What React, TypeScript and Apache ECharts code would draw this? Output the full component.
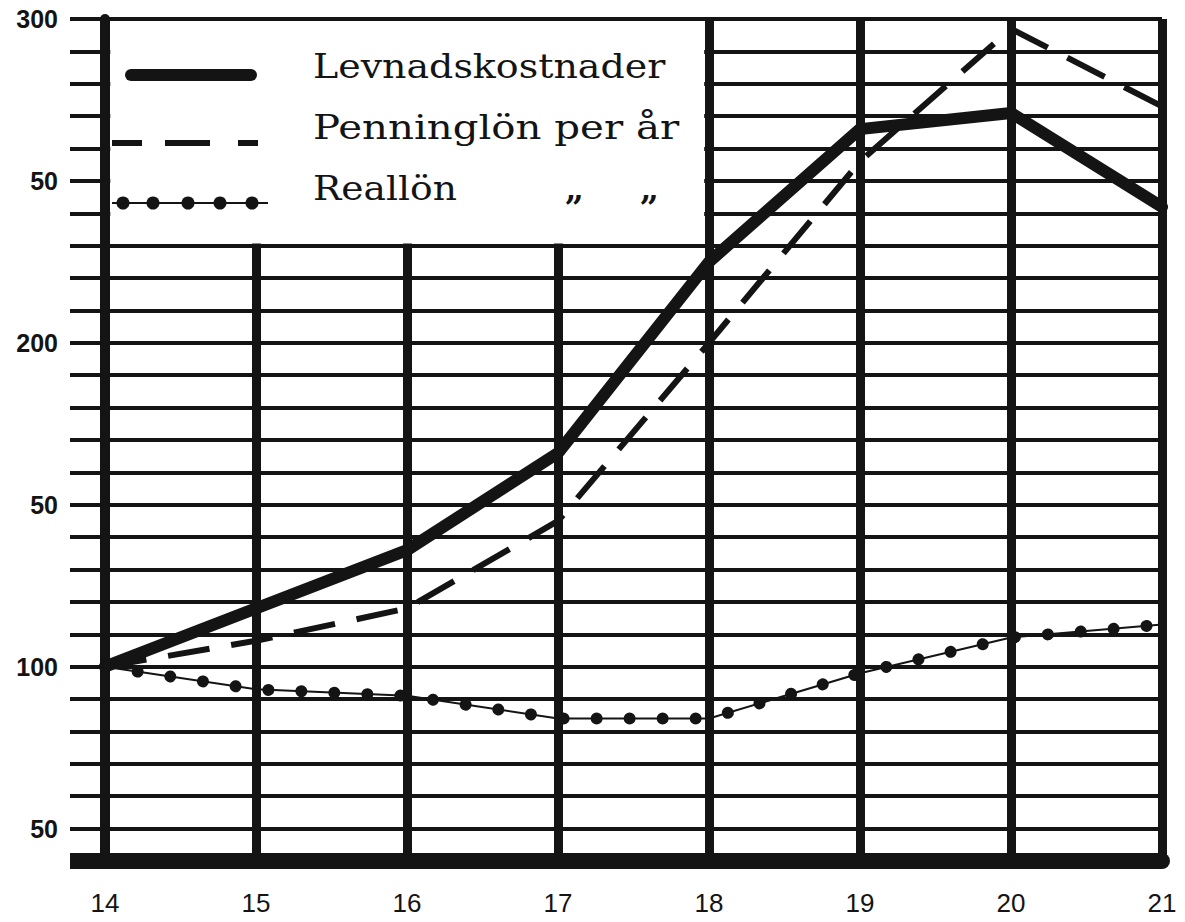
import { useEffect, useRef } from "react";
import * as echarts from "echarts";

const years = [14, 15, 16, 17, 18, 19, 20, 21];
const levnadskostnader = [100, 118, 136, 166, 225, 266, 271, 242];
const penninglon = [100, 108, 118, 145, 200, 256, 297, 273];
const reallon = [100, 93, 91, 84, 84, 98, 109, 113];

const yLabelValues = [50, 100, 150, 200, 250, 300];
const yLabelTexts = ["50", "100", "50", "200", "50", "300"];

const legendNames = ["Levnadskostnader", "Penninglön per år", "Reallön"];
const dittoMark = "„";

export default function App() {
  const ref = useRef<HTMLDivElement>(null);
  useEffect(() => {
    const chart = echarts.init(ref.current!, null, { renderer: "svg" });
    const ink = "#141414";
    const pairs = (ys: number[]) => years.map((x, i) => [x, ys[i]]);
    const serif = "'DejaVu Serif', 'Liberation Serif', serif";
    const Z = 100;

    chart.setOption({
      animation: false,
      backgroundColor: "#ffffff",
      grid: { left: 105, right: 23, top: 19, bottom: 61 },
      xAxis: {
        type: "value",
        min: 14,
        max: 21,
        interval: 1,
        axisLine: { show: true, onZero: false, lineStyle: { color: ink, width: 16 } },
        axisTick: { show: false },
        axisLabel: {
          color: ink,
          fontSize: 26,
          fontFamily: "'Liberation Sans', sans-serif",
          margin: 29,
        },
        splitLine: { show: true, lineStyle: { color: ink, width: 9 } },
      },
      yAxis: {
        type: "value",
        min: 40,
        max: 300,
        interval: 10,
        axisLine: { show: true, onZero: false, lineStyle: { color: ink, width: 10 } },
        axisTick: { show: true, length: 35, lineStyle: { color: ink, width: 4 } },
        axisLabel: {
          color: ink,
          fontSize: 25,
          fontWeight: "bold",
          fontFamily: "'Liberation Sans', sans-serif",
          margin: 47,
          formatter: (v: number) => {
            const i = yLabelValues.indexOf(Math.round(v));
            return i >= 0 ? yLabelTexts[i] : "";
          },
        },
        splitLine: { show: true, lineStyle: { color: ink, width: 4 } },
      },
      series: [
        {
          name: legendNames[0],
          type: "line",
          data: pairs(levnadskostnader),
          symbol: "none",
          lineStyle: { color: ink, width: 12, cap: "round", join: "round" },
          markArea: {
            silent: true,
            label: { show: false },
            itemStyle: { color: "#ffffff", opacity: 1 },
            data: [[{ xAxis: 14.035, yAxis: 230.7 }, { xAxis: 17.968, yAxis: 299.35 }]],
          },
        },
        {
          name: legendNames[1],
          type: "line",
          data: pairs(penninglon),
          symbol: "none",
          lineStyle: { color: ink, width: 6, type: [42, 22] },
        },
        {
          name: legendNames[2],
          type: "line",
          data: pairs(reallon),
          symbol: "none",
          lineStyle: { color: ink, width: 2 },
        },
        {
          name: legendNames[2] + " ",
          type: "line",
          data: pairs(reallon),
          symbol: "none",
          lineStyle: { color: ink, width: 12, type: [0.01, 33], cap: "round" },
        },
      ],
      graphic: [
        { type: "rect", z: Z, shape: { x: 70, y: 853, width: 35, height: 16 }, style: { fill: ink } },
        { type: "line", z: Z, shape: { x1: 131, y1: 75, x2: 251, y2: 75 }, style: { stroke: ink, lineWidth: 12, lineCap: "round" } },
        { type: "line", z: Z, shape: { x1: 112, y1: 143, x2: 142, y2: 143 }, style: { stroke: ink, lineWidth: 6 } },
        { type: "line", z: Z, shape: { x1: 165, y1: 143, x2: 210, y2: 143 }, style: { stroke: ink, lineWidth: 6 } },
        { type: "line", z: Z, shape: { x1: 238, y1: 143, x2: 258, y2: 143 }, style: { stroke: ink, lineWidth: 6 } },
        { type: "line", z: Z, shape: { x1: 112, y1: 203, x2: 268, y2: 203 }, style: { stroke: ink, lineWidth: 2 } },
        ...[123, 153, 188, 220, 252].map((cx) => ({
          type: "circle",
          z: Z,
          shape: { cx, cy: 203, r: 6.5 },
          style: { fill: ink },
        })),
        {
          type: "text",
          z: Z,
          x: 313,
          y: 66,
          scaleX: 1.15,
          style: { text: legendNames[0], font: `33px ${serif}`, fill: ink, verticalAlign: "middle" },
        },
        {
          type: "text",
          z: Z,
          x: 313,
          y: 128,
          scaleX: 1.22,
          style: { text: legendNames[1], font: `33px ${serif}`, fill: ink, verticalAlign: "middle" },
        },
        {
          type: "text",
          z: Z,
          x: 313,
          y: 188,
          scaleX: 1.14,
          style: { text: legendNames[2], font: `33px ${serif}`, fill: ink, verticalAlign: "middle" },
        },
        {
          type: "text",
          z: Z,
          x: 565,
          y: 188,
          style: { text: dittoMark, font: `bold 33px ${serif}`, fill: ink, verticalAlign: "middle" },
        },
        {
          type: "text",
          z: Z,
          x: 640,
          y: 188,
          style: { text: dittoMark, font: `bold 33px ${serif}`, fill: ink, verticalAlign: "middle" },
        },
      ],
    });
    return () => chart.dispose();
  }, []);
  return (
    <div
      ref={ref}
      style={{ position: "absolute", left: 0, top: 0, width: 1185, height: 922 }}
    />
  );
}
